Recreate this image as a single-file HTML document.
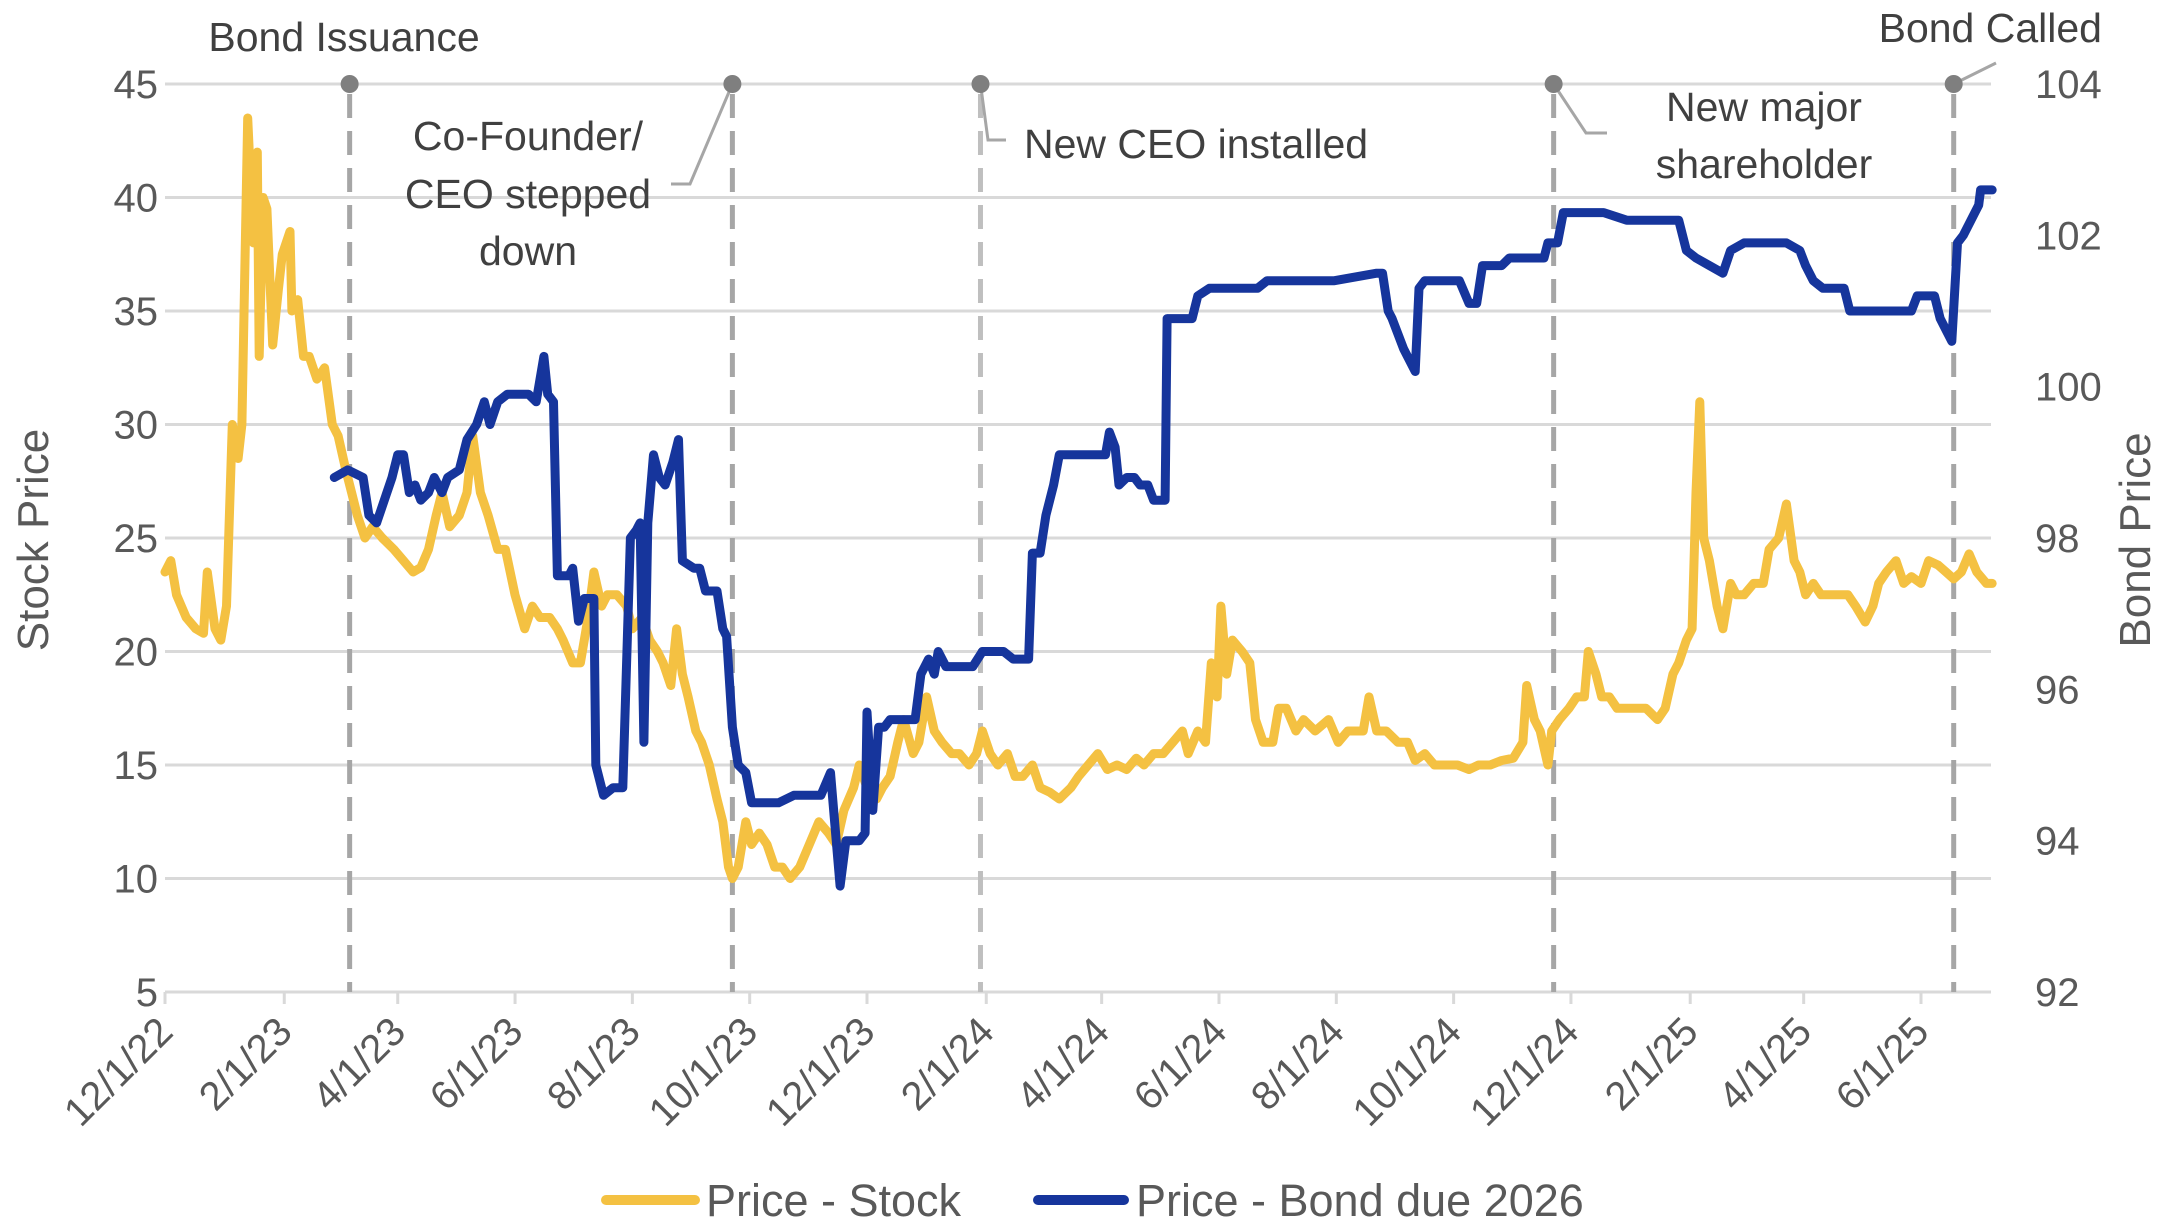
<!DOCTYPE html>
<html><head><meta charset="utf-8"><style>
html,body{margin:0;padding:0;background:#fff;}
svg{display:block;font-family:"Liberation Sans",Arial,sans-serif;}
</style></head><body>
<svg id="chart" width="2180" height="1232" viewBox="0 0 2180 1232" xmlns="http://www.w3.org/2000/svg">
<g id="grid"></g>
<g id="events"></g>
<g id="series"></g>
<g id="axes"></g>
<text x="0" y="0" transform="translate(48,540) rotate(-90)" text-anchor="middle" font-size="44" fill="#595959">Stock Price</text>
<text x="0" y="0" transform="translate(2150,540) rotate(-90)" text-anchor="middle" font-size="44" fill="#595959">Bond Price</text>
<g>
  <line x1="606" y1="1200" x2="695" y2="1200" stroke="#F4C142" stroke-width="10" stroke-linecap="round"/>
  <text x="706" y="1216" font-size="45" fill="#595959">Price - Stock</text>
  <line x1="1038" y1="1200" x2="1124" y2="1200" stroke="#16359C" stroke-width="10" stroke-linecap="round"/>
  <text x="1136" y="1216" font-size="45" fill="#595959">Price - Bond due 2026</text>
</g>
</svg>
<script>
// days since 12/1/22
const stockDay=[0,3,6,11,16,20,22,26,29,32,35,38,40,43,46,48,49,51,53,56,59,61,65,66,69,72,75,79,83,87,90,94,97,100,104,108,113,119,124,129,133,137,141,144,148,153,157,160,164,168,173,177,182,187,191,195,200,204,207,212,216,220,223,227,230,235,240,243,248,252,256,259,263,266,269,272,276,279,283,287,290,293,295,298,302,305,309,313,317,321,325,330,335,340,345,349,353,358,361,365,370,373,377,381,384,389,392,396,400,404,409,413,418,422,425,429,433,438,442,446,451,455,460,465,471,475,480,485,490,495,500,505,509,514,519,524,529,532,537,541,544,547,549,552,555,560,564,567,571,576,579,583,588,592,598,605,610,615,623,626,630,635,641,646,650,655,660,666,672,678,683,689,695,701,706,708,712,715,719,721,725,730,734,738,740,744,747,751,755,760,765,770,776,780,784,787,791,794,796,798,800,803,807,810,814,817,821,826,831,834,839,843,847,850,853,857,861,867,872,875,879,884,888,891,895,900,904,908,913,917,922,926,930,934,938,942,947,950];
const stockVal=[23.5,24,22.5,21.5,21,20.8,23.5,21,20.5,22,30,28.5,30,43.5,38,42,33,40,39.5,33.5,36,37.5,38.5,35,35.5,33,33,32,32.5,30,29.5,28,27,26,25,25.5,25,24.5,24,23.5,23.7,24.5,26,27,25.5,26,27,29.5,27,26,24.5,24.5,22.5,21,22,21.5,21.5,21,20.5,19.5,19.5,21.5,23.5,22,22.5,22.5,22,21,21.5,20.5,20,19.5,18.5,21,19,18,16.5,16,15,13.5,12.5,10.5,10,10.5,12.5,11.5,12,11.5,10.5,10.5,10,10.5,11.5,12.5,12,11.5,13,14,15,14,13.5,14,14.5,16,17,15.5,16,18,16.5,16,15.5,15.5,15,15.5,16.5,15.5,15,15.5,14.5,14.5,15,14,13.8,13.5,14,14.5,15,15.5,14.8,15,14.8,15.3,15,15.5,15.5,16,16.5,15.5,16.5,16,19.5,18,22,19,20.5,20,19.5,17,16,16,17.5,17.5,16.5,17,16.5,17,16,16.5,16.5,18,16.5,16.5,16,16,15.2,15.5,15,15,15,14.8,15,15,15.2,15.3,16,18.5,17,16.5,15,16.5,17,17.5,18,18,20,19,18,18,17.5,17.5,17.5,17.5,17,17.5,19,19.5,20.5,21,27,31,25,24,22,21,23,22.5,22.5,23,23,24.5,25,26.5,24,23.5,22.5,23,22.5,22.5,22.5,22.5,22,21.3,22,23,23.5,24,23,23.3,23,24,23.8,23.5,23.2,23.5,24.3,23.5,23,23];
const bondDay=[88,95,103,106,110,114,118,121,124,127,130,133,137,140,144,147,153,157,162,166,169,173,178,183,189,193,197,199,202,204,210,212,215,218,223,224,228,233,238,242,245,247,249,251,254,257,260,264,267,269,275,278,281,287,290,292,295,298,302,305,312,319,327,334,341,346,348,351,354,357,361,364,365,368,371,374,377,384,390,393,397,400,402,406,413,420,425,431,436,441,449,451,455,458,462,465,471,478,489,491,494,496,500,504,507,511,514,520,521,529,534,537,543,550,561,568,573,586,608,630,633,636,638,644,650,652,655,666,673,678,682,685,695,699,717,719,724,727,738,748,760,782,787,791,796,803,810,814,821,832,843,850,853,857,862,868,873,876,882,897,908,911,920,923,927,929,932,935,939,943,944,950];
const bondVal=[98.8,98.9,98.8,98.3,98.2,98.5,98.8,99.1,99.1,98.6,98.7,98.5,98.6,98.8,98.6,98.8,98.9,99.3,99.5,99.8,99.5,99.8,99.9,99.9,99.9,99.8,100.4,99.9,99.8,97.5,97.5,97.6,96.9,97.2,97.2,95.0,94.6,94.7,94.7,98.0,98.1,98.2,95.3,98.2,99.1,98.8,98.7,99.0,99.3,97.7,97.6,97.6,97.3,97.3,96.8,96.7,95.5,95.0,94.9,94.5,94.5,94.5,94.6,94.6,94.6,94.9,94.3,93.4,94.0,94.0,94.0,94.1,95.7,94.4,95.5,95.5,95.6,95.6,95.6,96.2,96.4,96.2,96.5,96.3,96.3,96.3,96.5,96.5,96.5,96.4,96.4,97.8,97.8,98.3,98.7,99.1,99.1,99.1,99.1,99.4,99.2,98.7,98.8,98.8,98.7,98.7,98.5,98.5,100.9,100.9,100.9,101.2,101.3,101.3,101.3,101.3,101.4,101.4,101.4,101.5,101.5,101.0,100.9,100.5,100.2,101.3,101.4,101.4,101.4,101.1,101.1,101.6,101.6,101.7,101.7,101.9,101.9,102.3,102.3,102.3,102.2,102.2,102.2,101.8,101.7,101.6,101.5,101.8,101.9,101.9,101.9,101.8,101.6,101.4,101.3,101.3,101.3,101.0,101.0,101.0,101.0,101.2,101.2,100.9,100.7,100.6,101.9,102.0,102.2,102.4,102.6,102.6];
const leftTicks=[5,10,15,20,25,30,35,40,45];
const rightTicks=[92,94,96,98,100,102,104];
const xTickDays=[0,62,121,182,243,304,365,427,487,548,609,670,731,793,852,913];
const xTickLabels=["12/1/22","2/1/23","4/1/23","6/1/23","8/1/23","10/1/23","12/1/23","2/1/24","4/1/24","6/1/24","8/1/24","10/1/24","12/1/24","2/1/25","4/1/25","6/1/25"];
const eventDays=[96,295,424,722,930];

const NS="http://www.w3.org/2000/svg";
const X0=165,X1=1991,Y0=992,Y1=84;
const xs=d=>X0+d*(1921-165)/913;
const yL=v=>Y0-(v-5)/40*(Y0-Y1);
const yR=v=>Y0-(v-92)/12*(Y0-Y1);
function mk(tag,attrs,parent){const e=document.createElementNS(NS,tag);for(const k in attrs)e.setAttribute(k,attrs[k]);parent.appendChild(e);return e;}
const grid=document.getElementById('grid'),axes=document.getElementById('axes'),ser=document.getElementById('series'),ev=document.getElementById('events');

leftTicks.forEach(v=>{
  const y=yL(v);
  const l=mk('line',{x1:X0,x2:X1,y1:y,y2:y,stroke:'#d9d9d9','stroke-width':3},grid);
  
  
  const t=mk('text',{x:158,y:y+14,'text-anchor':'end','font-size':40,fill:'#595959'},axes);
  t.textContent=v;
  
  
});
rightTicks.forEach(v=>{
  const t=mk('text',{x:2035,y:yR(v)+14,'font-size':40,fill:'#595959'},axes);
  t.textContent=v;
  
  
});
xTickDays.forEach((d,i)=>{
  const x=xs(d);
  const tk=mk('line',{x1:x,x2:x,y1:Y0,y2:Y0+12,stroke:'#d9d9d9','stroke-width':3},axes);
  
  
  const t=mk('text',{x:0,y:0,transform:`translate(${x+10},${Y0+42}) rotate(-45)`,'text-anchor':'end','font-size':40,fill:'#595959'},axes);
  t.textContent=xTickLabels[i];
  
  
});

eventDays.forEach((d,i)=>{
  const x=xs(d);
  const l=mk('line',{x1:x,x2:x,y1:Y1+10,y2:Y0,stroke:i===2?'#bfbfbf':'#a6a6a6','stroke-width':5,'stroke-dasharray':'24 13'},ev);
  
  
});

function path(days,vals,yf,color,name){
  let d='';days.forEach((dd,i)=>{d+=(i?'L':'M')+xs(dd).toFixed(1)+','+yf(vals[i]).toFixed(1);});
  const p=mk('path',{d:d,fill:'none',stroke:color,'stroke-width':9,'stroke-linejoin':'round','stroke-linecap':'round'},ser);
  
  
}
path(stockDay,stockVal,yL,'#F4C142','stock-price-line');
path(bondDay,bondVal,yR,'#16359C','bond-price-line');

const lead=[[],[[0,0],[690,184],[671,184]],[[0,0],[988,140],[1006,140]],[[0,0],[1586,133],[1607,133]],[[0,0],[1996,63]]];
eventDays.forEach((d,i)=>{
  const x=xs(d);
  if(lead[i].length){
    const pts=lead[i].map((p,j)=>j===0?[x,Y1]:p).map(p=>p.join(',')).join(' ');
    const pl=mk('polyline',{points:pts,fill:'none',stroke:'#a6a6a6','stroke-width':3},ev);
    
    
  }
  const c=mk('circle',{cx:x,cy:Y1,r:9,fill:'#7f7f7f'},ev);
  
  
});
const notes=[
 ['Bond Issuance',344,51,'middle'],
 ['Co-Founder/',528,150,'middle'],['CEO stepped',528,208,'middle'],['down',528,265,'middle'],
 ['New CEO installed',1024,158,'start'],
 ['New major',1764,121,'middle'],['shareholder',1764,178,'middle'],
 ['Bond Called',2102,42,'end']];
notes.forEach(n=>{
  const t=mk('text',{x:n[1],y:n[2],'text-anchor':n[3],'font-size':41,fill:'#404040'},ev);
  t.textContent=n[0];
  
  
});
</script>
</body></html>
